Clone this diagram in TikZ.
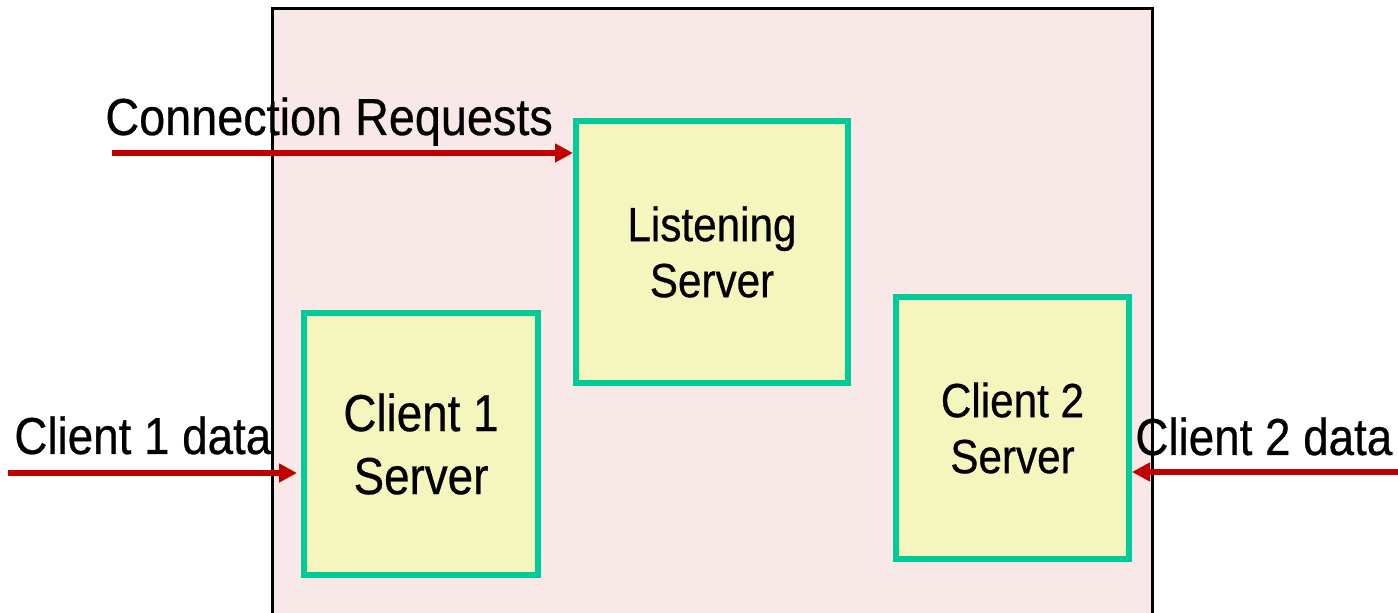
\documentclass[tikz,border=0pt]{standalone}
\usepackage{fontspec}
\setmainfont{Liberation Sans}[FakeStretch=0.88,FakeBold=0.5]
\usepackage{xcolor}
\usetikzlibrary{arrows.meta,positioning}

\definecolor{srvgreen}{RGB}{0,204,153}
\definecolor{srvfill}{RGB}{245,245,190}
\definecolor{hostpink}{RGB}{249,232,232}
\definecolor{feedred}{RGB}{192,0,0}

\begin{document}
\begin{tikzpicture}[x=0.5pt,y=-0.5pt,>={Triangle[length=9pt,width=9pt]}]
	  \tikzset{srvblock/.style={draw=srvgreen, fill=srvfill, line width=3pt, rectangle, align=center, inner sep=0pt},
	  	biglabel/.style={font=\fontsize{26}{31.5}\selectfont, inner sep=0pt},
	  	smalllabel/.style={font=\fontsize{24}{28}\selectfont, inner sep=0pt},
	  	feed/.style={draw=feedred, line width=3pt, ->},
	  }
	  \clip (0,0) rectangle (1398,613);
	  \draw[line width=1.5pt, fill=hostpink] (272,9) rectangle (1152,650);

	  \node [srvblock, smalllabel, minimum width=136pt, minimum height=131pt] (listen) at (712,252) {Listening\\Server};
	  \node [srvblock, biglabel, minimum width=117pt, minimum height=131pt] (client1) at (421,444) {Client 1\\Server};
	  \node [srvblock, smalllabel, minimum width=116.5pt, minimum height=131pt] (client2) at (1012.5,428) {Client 2\\Server};

	  \node [biglabel, anchor=base west] (reqlabel) at (105,135) {\addfontfeature{FakeStretch=0.9}Connection Requests};
	  \node [biglabel, anchor=base west] (c1label) at (14,454) {Client 1 data};
	  \node [biglabel, anchor=base west] (c2label) at (1135,455) {Client 2 data};

	  \coordinate (reqin) at (112,153);
	  \coordinate (c1in) at (8,473);
	  \coordinate (c2in) at (1400,472);

	  %% paths
	  \draw[feed] (reqin) -- (reqin -| listen.west);
	  \draw[feed, shorten >=2pt] (c1in) -- (c1in -| client1.west);
	  \draw[feed] (c2in) -- (c2in -| client2.east);
\end{tikzpicture}
\end{document}
